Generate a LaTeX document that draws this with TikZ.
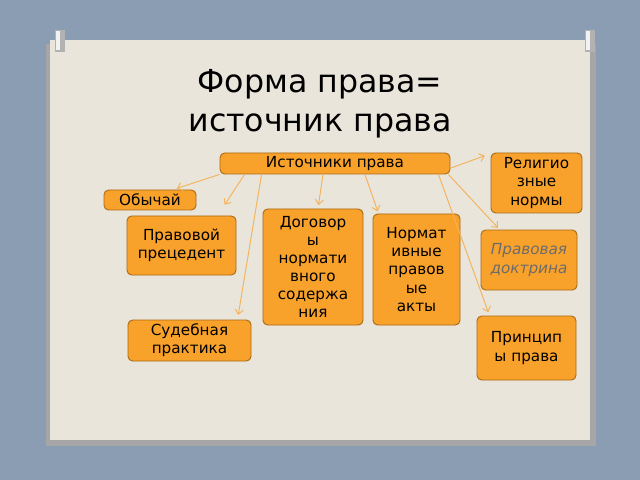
\documentclass[tikz,border=0pt]{standalone}
\usepackage{fontspec}
\setmainfont{DejaVu Sans}
\usetikzlibrary{arrows.meta}
\definecolor{bg}{HTML}{8A9DB3}
\definecolor{board}{HTML}{E9E5DA}
\definecolor{boxf}{HTML}{F9A22B}
\definecolor{boxd}{HTML}{A86A14}
\definecolor{arr}{HTML}{F4B25A}
\begin{document}
\begin{tikzpicture}[x=0.03cm,y=-0.03cm,
 bx/.style={draw=boxd,fill=boxf,rounded corners=4pt,line width=0.8pt,inner sep=1pt,align=center,font=\fontsize{13}{15.5}\selectfont},
 ar/.style={draw=arr,line width=0.8pt,-{Straight Barb[length=4pt,width=7pt]}}]
\useasboundingbox (0,0) rectangle (640,480);
\fill[bg] (0,0) rectangle (640,480);
\fill[black!35] (46,44) rectangle (596,446);
\fill[board] (50,40) rectangle (590,440);
\foreach \p in {55,585}{\fill[gray!60] (\p,30) rectangle (\p+10,52);\fill[white!90!gray] (\p+1,31) rectangle (\p+5,50);}
\node (title) at (320,104) [align=center,font=\fontsize{27}{33}\selectfont] {Форма права=\\источник права};
\node[bx,minimum width=230*0.03cm,minimum height=21*0.03cm] (src) at (335,163.5) {Источники права};
\node[bx,minimum width=91*0.03cm,minimum height=60*0.03cm] (rel) at (536.5,183) {Религио\\зные\\нормы};
\node[bx,minimum width=92*0.03cm,minimum height=20*0.03cm] (obi) at (150,200) {Обычай};
\node[bx,minimum width=109*0.03cm,minimum height=59*0.03cm] (prec) at (181.5,245.5) {Правовой\\прецедент};
\node[bx,minimum width=100*0.03cm,minimum height=116*0.03cm] (dog) at (313,267) {Договор\\ы\\нормати\\вного\\содержа\\ния};
\node[bx,minimum width=87*0.03cm,minimum height=111*0.03cm] (npa) at (416.5,269.5) {Нормат\\ивные\\правов\\ые\\акты};
\node[bx,minimum width=96*0.03cm,minimum height=60*0.03cm,text=gray!85!black,font=\fontsize{13}{15.5}\selectfont\itshape] (doc) at (529,260) {Правовая\\доктрина};
\node[bx,minimum width=123*0.03cm,minimum height=41*0.03cm] (sud) at (189.5,340.5) {Судебная\\практика};
\node[bx,minimum width=99*0.03cm,minimum height=64*0.03cm] (pri) at (526.5,348) {Принцип\\ы права};
\draw[ar,shorten >=3pt] (src.south west) -- ([xshift=20pt]obi.north);
\draw[ar,shorten >=5pt] ([xshift=25*0.03cm]src.south west) -- ([xshift=40*0.03cm,yshift=5pt]prec.north);
\draw[ar,shorten >=4pt] ([xshift=42*0.03cm]src.south west) -- ([xshift=48*0.03cm]sud.north);
\draw[ar,shorten >=3pt] ([xshift=-12*0.03cm]src.south) -- ([xshift=5*0.03cm]dog.north);
\draw[ar,shorten >=2pt] ([xshift=30*0.03cm]src.south) -- ([xshift=-38*0.03cm]npa.north);
\draw[ar,shorten >=2pt] ([yshift=-4pt]src.east) -- ([xshift=-3pt,yshift=-2pt]rel.north west);
\draw[ar,shorten >=2pt] ([xshift=-2*0.03cm]src.south east) -- ([xshift=19*0.03cm]doc.north west);
\draw[ar,shorten >=3pt] ([xshift=-12*0.03cm]src.south east) -- ([xshift=13*0.03cm]pri.north west);
\end{tikzpicture}
\end{document}
